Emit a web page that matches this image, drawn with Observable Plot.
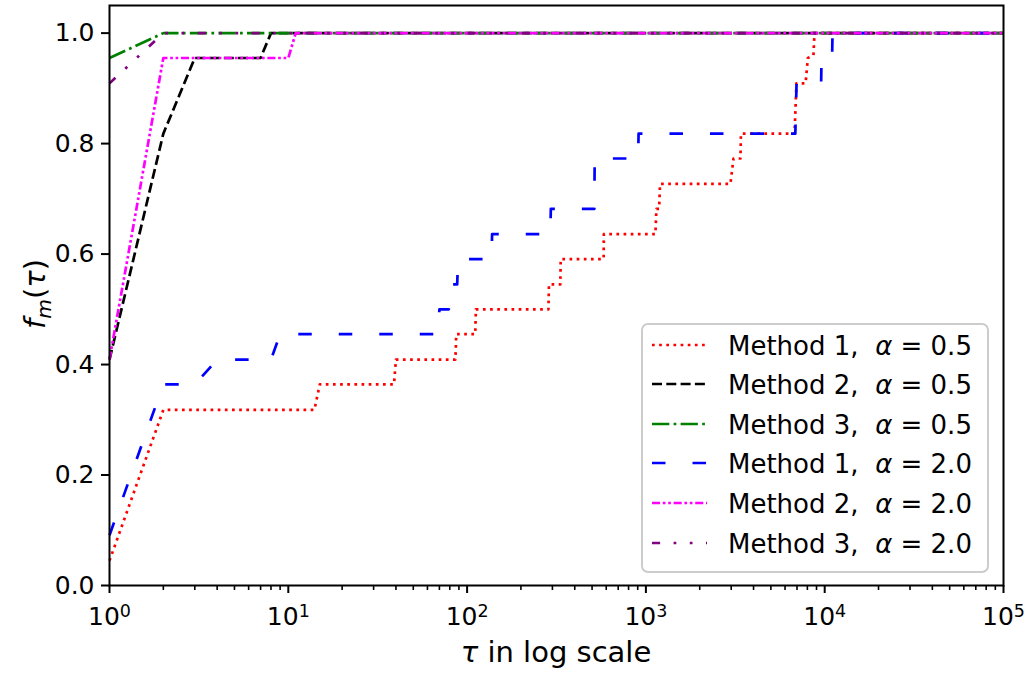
<!DOCTYPE html>
<html>
<head>
<meta charset="utf-8">
<script src="https://cdn.jsdelivr.net/npm/d3@7"></script>
<script src="https://cdn.jsdelivr.net/npm/@observablehq/plot@0.6"></script>
<style>
  html, body { margin: 0; padding: 0; background: #fff; }
  #chart { width: 1026px; height: 673px; }
  svg text { white-space: pre; }
</style>
</head>
<body>
<div id="chart"></div>
<script>
// ---- Data ----
const xMajorTicks = [1, 10, 100, 1000, 10000, 100000];
const yTicks = [0, 0.2, 0.4, 0.6, 0.8, 1.0];

// Method 1, alpha = 0.5 (red dotted)
const m1a05Tau = [1, 2, 14, 15, 39, 40, 86, 87, 111, 112, 285, 287, 332, 334, 580, 582, 1130, 1145, 1185, 1200, 2970, 3090, 3380, 3400, 6780, 6950, 7820, 8050, 8650, 8770, 100000];
const m1a05F   = [0.045, 0.318, 0.318, 0.364, 0.364, 0.409, 0.409, 0.455, 0.455, 0.5, 0.5, 0.545, 0.545, 0.591, 0.591, 0.636, 0.636, 0.682, 0.682, 0.727, 0.727, 0.773, 0.773, 0.818, 0.818, 0.909, 0.909, 0.955, 0.96, 1.0, 1.0];
// Method 2, alpha = 0.5 (black dashed)
const m2a05Tau = [1, 2, 3, 7, 8, 100000];
const m2a05F   = [0.409, 0.818, 0.955, 0.955, 1.0, 1.0];
// Method 3, alpha = 0.5 (green dash-dot)
const m3a05Tau = [1, 2, 100000];
const m3a05F   = [0.955, 1.0, 1.0];
// Method 1, alpha = 2.0 (blue long dashes)
const m1a20Tau = [1, 2, 3, 4, 8, 9, 69, 70, 79, 80, 88, 89, 137, 138, 292, 294, 515, 517, 905, 910, 6850, 6960, 9550, 9600, 11000, 11060, 100000];
const m1a20F   = [0.091, 0.364, 0.364, 0.409, 0.409, 0.455, 0.455, 0.5, 0.5, 0.545, 0.545, 0.591, 0.591, 0.636, 0.636, 0.682, 0.682, 0.773, 0.773, 0.818, 0.818, 0.909, 0.909, 0.955, 0.955, 1.0, 1.0];
// Method 2, alpha = 2.0 (magenta dash-dot-dot)
const m2a20Tau = [1, 2, 10, 11, 100000];
const m2a20F   = [0.409, 0.955, 0.955, 1.0, 1.0];
// Method 3, alpha = 2.0 (purple loose dash-dot-dot)
const m3a20Tau = [1, 2, 100000];
const m3a20F   = [0.909, 1.0, 1.0];

const seriesNames = ["Method 1,  ", "Method 2,  ", "Method 3,  ", "Method 1,  ", "Method 2,  ", "Method 3,  "];
const alphaValues = ["0.5", "0.5", "0.5", "2.0", "2.0", "2.0"];
const colors = ["#ff0000", "#000000", "#008000", "#0000ff", "#ff00ff", "#800080"];
const dashes = ["2.7,4.45", "10,4.3", "17.3,4.3,2.7,4.3", "13.5,27", "8.1,2.7,2.7,2.7,2.7,2.7", "8.1,13.5,2.7,13.5,2.7,13.5"];

// ---- Build tables ----
const taus = [m1a05Tau, m2a05Tau, m3a05Tau, m1a20Tau, m2a20Tau, m3a20Tau];
const fs = [m1a05F, m2a05F, m3a05F, m1a20F, m2a20F, m3a20F];
const series = taus.map((t, i) => t.map((tau, j) => ({tau, f: fs[i][j]})));

const W = 1026, H = 673;
const LW = 2.7;
const FONT = "DejaVu Sans";
const minorTicks = d3.scaleLog().domain([1, 1e5]).ticks().filter(v => !xMajorTicks.includes(v));

const lineMarks = series.map((s, i) => Plot.line(s, {
  x: "tau", y: "f", stroke: colors[i], strokeWidth: LW,
  strokeDasharray: dashes[i], strokeLinecap: "butt", strokeLinejoin: "round"
}));

const chart = Plot.plot({
  width: W, height: H,
  marginLeft: 109, marginRight: 23, marginTop: 5, marginBottom: 88,
  style: {fontFamily: FONT, fontSize: "25px", color: "black", background: "white", overflow: "visible"},
  x: {type: "log", domain: [1, 1e5]},
  y: {domain: [0, 1.05]},
  marks: [
    ...lineMarks,
    Plot.frame({stroke: "black", strokeWidth: 2}),
    Plot.axisY({ticks: yTicks, tickFormat: d => d.toFixed(1), tickSize: 8, tickPadding: 7, strokeWidth: 2, label: null, fill: "black"}),
    Plot.axisX({ticks: minorTicks, tickFormat: () => "", tickSize: 5, strokeWidth: 1.6, label: null}),
    Plot.axisX({ticks: xMajorTicks, tickFormat: d => String(Math.round(Math.log10(d))), tickSize: 8, tickPadding: 14, strokeWidth: 2, label: null, fill: "black"})
  ]
});

document.getElementById("chart").appendChild(chart);

const svg = d3.select(chart);

// Superscript exponents on x tick labels
svg.selectAll('g[aria-label="x-axis tick label"] text').each(function() {
  const t = d3.select(this);
  const e = t.text();
  if (e === "") return;
  t.text("10");
  t.append("tspan").attr("font-size", "0.7em").attr("dy", "-8.5").text(e);
});

// Axis labels
svg.append("text")
  .attr("x", 556).attr("y", 662)
  .attr("text-anchor", "middle")
  .attr("font-family", FONT).attr("font-size", 29).attr("fill", "black")
  .call(t => {
    t.append("tspan").attr("font-style", "italic").text("τ");
    t.append("tspan").text(" in log scale");
  });

svg.append("text")
  .attr("transform", "translate(45,294) rotate(-90)")
  .attr("text-anchor", "middle")
  .attr("font-family", FONT).attr("font-size", 29).attr("fill", "black")
  .call(t => {
    t.append("tspan").attr("font-style", "italic").text("f");
    t.append("tspan").attr("font-style", "italic").attr("font-size", "0.7em").attr("dy", "6").text("m");
    t.append("tspan").attr("dy", "-6").text("(");
    t.append("tspan").attr("font-style", "italic").text("τ");
    t.append("tspan").text(")");
  });

// Legend
const lg = svg.append("g").attr("aria-label", "legend");
lg.append("rect")
  .attr("x", 642).attr("y", 324).attr("width", 346).attr("height", 248)
  .attr("rx", 6).attr("ry", 6)
  .attr("fill", "white").attr("fill-opacity", 0.8)
  .attr("stroke", "#cccccc").attr("stroke-width", 2);
const rowY = [345, 384, 424, 463, 503, 543];
seriesNames.forEach((name, i) => {
  const y = rowY[i];
  lg.append("line")
    .attr("x1", 652).attr("x2", 707).attr("y1", y).attr("y2", y)
    .attr("stroke", colors[i]).attr("stroke-width", LW)
    .attr("stroke-dasharray", dashes[i]).attr("stroke-linecap", "butt");
  const t = lg.append("text")
    .attr("x", 728).attr("y", y + 9.5)
    .attr("text-anchor", "start")
    .attr("font-family", FONT).attr("font-size", 26).attr("fill", "black");
  t.append("tspan").text(name);
  t.append("tspan").attr("font-style", "italic").text("α");
  t.append("tspan").text(" = " + alphaValues[i]);
});
</script>
</body>
</html>
